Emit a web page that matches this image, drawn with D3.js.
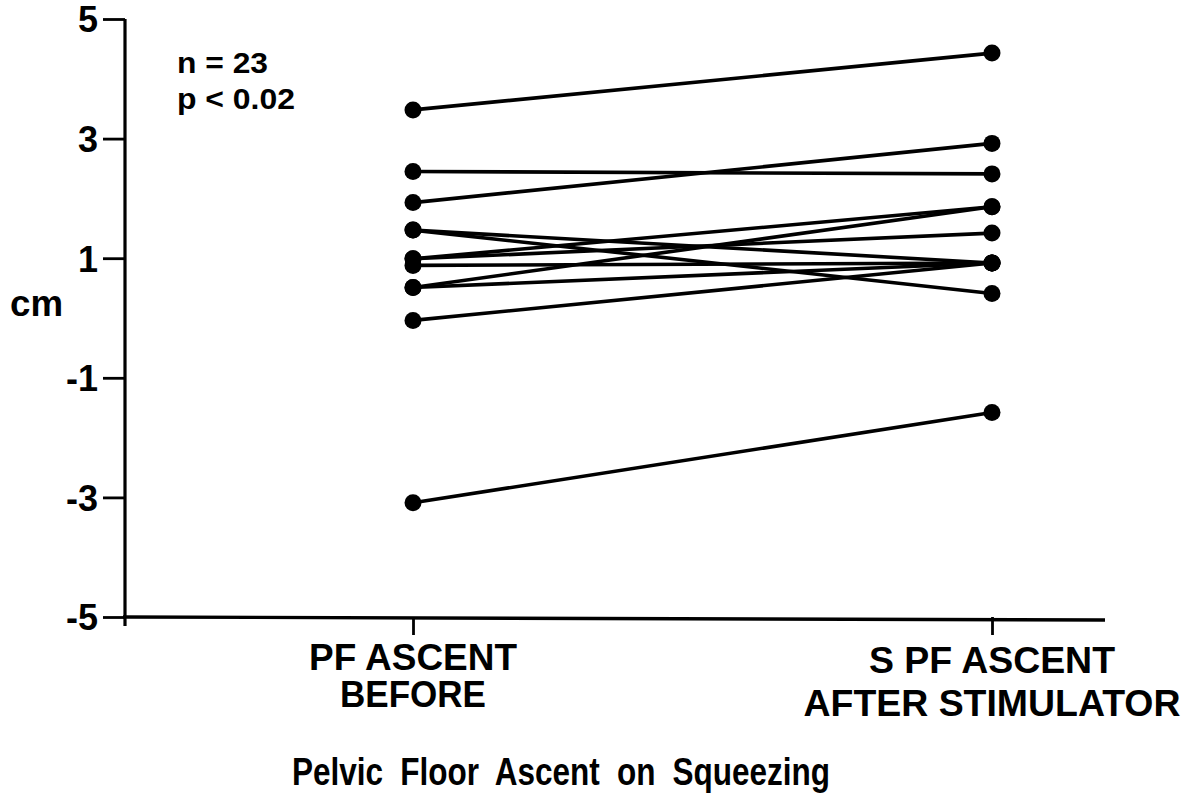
<!DOCTYPE html>
<html>
<head>
<meta charset="utf-8">
<script src="https://cdn.jsdelivr.net/npm/d3@7"></script>
<style>
  html, body { margin: 0; padding: 0; background: #fff; }
  svg { display: block; }
  text { font-family: "Liberation Sans", Arial, Helvetica, sans-serif; font-weight: bold; fill: #000; }
</style>
</head>
<body>
<svg id="chart" width="1198" height="796"></svg>
<script>
// ---- data ----
const categories = ["PF ASCENT BEFORE", "S PF ASCENT AFTER STIMULATOR"];
const categoryLines = [["PF ASCENT", "BEFORE"], ["S PF ASCENT", "AFTER STIMULATOR"]];
const before = [3.48, 2.45, 1.93, 1.47, 1.47, 0.99, 0.99, 0.88, 0.51, 0.51, -0.04, -3.09];
const after  = [4.43, 2.41, 2.92, 0.41, 0.92, 1.86, 1.42, 0.92, 1.86, 0.92, 0.92, -1.58];
const yTicks = [5, 3, 1, -1, -3, -5];
const yLabel = "cm";
const title = "Pelvic Floor Ascent on Squeezing";
const notes = ["n = 23", "p < 0.02"];

// ---- layout ----
const svg = d3.select("#chart");
const axisX = 125, axisYbottom = 617, axisRight = 1105;
const y = d3.scaleLinear().domain([-5, 5]).range([617, 19]);
const x = d3.scalePoint().domain(categories).range([413, 992]);

// y axis
const gy = svg.append("g").attr("transform", `translate(${axisX},0)`)
  .call(d3.axisLeft(y).tickValues(yTicks).tickSize(22).tickSizeOuter(0).tickPadding(5).tickFormat(d3.format("d")));
gy.select(".domain").remove();
gy.selectAll(".tick line").attr("stroke", "#000").attr("stroke-width", 2.8);
gy.selectAll(".tick text").style("font-size", "36px").attr("dy", "0.36em")
  .attr("lengthAdjust", "spacingAndGlyphs")
  .text(d => d < 0 ? "-" + Math.abs(d) : d);
svg.append("line").attr("x1", axisX).attr("x2", axisX).attr("y1", y(5)).attr("y2", axisYbottom + 9)
  .attr("stroke", "#000").attr("stroke-width", 3.2);

// x axis
const gx = svg.append("g").attr("transform", `translate(0,${axisYbottom})`)
  .call(d3.axisBottom(x).tickSize(18).tickSizeOuter(0).tickFormat(""));
gx.select(".domain").remove();
gx.selectAll(".tick line").attr("stroke", "#000").attr("stroke-width", 2.8);
svg.append("line").attr("x1", axisX - 2).attr("x2", axisRight).attr("y1", axisYbottom).attr("y2", axisYbottom + 3)
  .attr("stroke", "#000").attr("stroke-width", 3.4);

// category labels
const labelSpec = [
  { baselines: [670, 707], widths: [208, 146] },
  { baselines: [673, 716], widths: [246, 377] }
];
categories.forEach((c, i) => {
  categoryLines[i].forEach((t, j) => {
    svg.append("text")
      .attr("x", x(c)).attr("y", labelSpec[i].baselines[j])
      .attr("text-anchor", "middle")
      .style("font-size", "37px")
      .attr("textLength", labelSpec[i].widths[j])
      .attr("lengthAdjust", "spacingAndGlyphs")
      .text(t);
  });
});

// lines
const pairs = before.map((b, i) => [b, after[i]]);
svg.append("g").selectAll("line").data(pairs).join("line")
  .attr("x1", x(categories[0])).attr("y1", d => y(d[0]))
  .attr("x2", x(categories[1])).attr("y2", d => y(d[1]))
  .attr("stroke", "#000").attr("stroke-width", 3.6);

// dots
const g = svg.append("g");
g.selectAll("circle.b").data(before).join("circle").attr("class", "b")
  .attr("cx", x(categories[0])).attr("cy", d => y(d)).attr("r", 8.5).attr("fill", "#000");
g.selectAll("circle.a").data(after).join("circle").attr("class", "a")
  .attr("cx", x(categories[1])).attr("cy", d => y(d)).attr("r", 8.5).attr("fill", "#000");

// y label
svg.append("text").attr("x", 10).attr("y", 316).style("font-size", "37px")
  .attr("textLength", 53).attr("lengthAdjust", "spacingAndGlyphs").text(yLabel);

// notes
svg.append("text").attr("x", 177).attr("y", 73).style("font-size", "29px")
  .attr("textLength", 91).attr("lengthAdjust", "spacingAndGlyphs").text(notes[0]);
svg.append("text").attr("x", 177).attr("y", 109).style("font-size", "29px")
  .attr("textLength", 118).attr("lengthAdjust", "spacingAndGlyphs").text(notes[1]);

// title
svg.append("text").attr("x", 292).attr("y", 785)
  .style("font-size", "38px").style("word-spacing", "10px")
  .attr("textLength", 538).attr("lengthAdjust", "spacingAndGlyphs")
  .text(title);
</script>
</body>
</html>
